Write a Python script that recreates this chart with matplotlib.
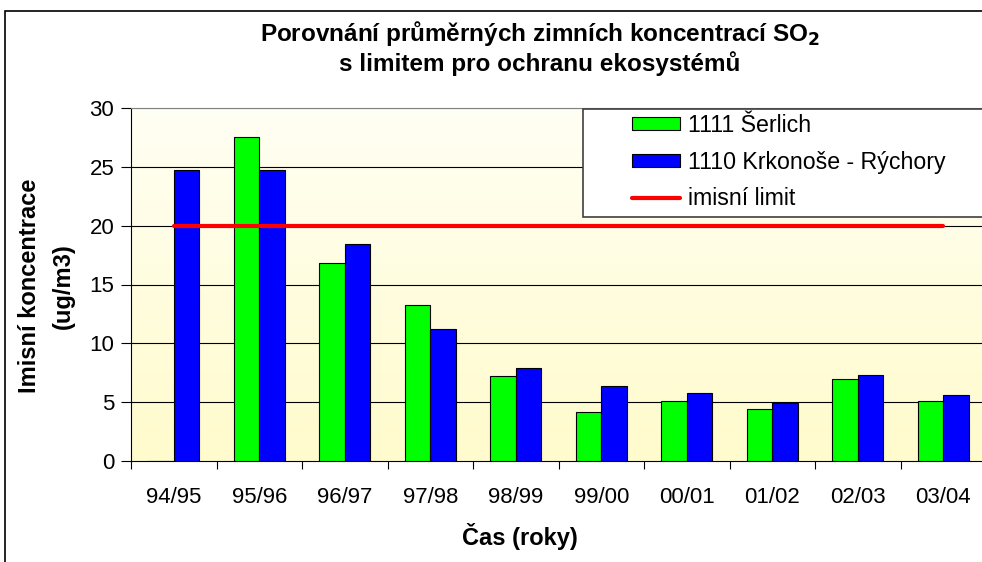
import matplotlib
matplotlib.use("Agg")
import matplotlib.pyplot as plt
import numpy as np
from matplotlib.patches import Rectangle, Patch
from matplotlib.lines import Line2D

plt.rcParams['font.family'] = ['Liberation Sans', 'DejaVu Sans']

seasons = ['94/95', '95/96', '96/97', '97/98', '98/99', '99/00', '00/01', '01/02', '02/03', '03/04']
serlich = [0, 27.5, 16.8, 13.3, 7.25, 4.2, 5.1, 4.4, 6.95, 5.1]
rychory = [24.7, 24.7, 18.4, 11.2, 7.9, 6.4, 5.8, 4.95, 7.3, 5.6]
limit = [20] * 10

fig = plt.figure(figsize=(9.82, 5.62), dpi=100)
W, H = 982, 562
ax = fig.add_axes([131 / W, 1 - 461 / H, (986 - 131) / W, (461 - 108) / H])

# pale yellow gradient background
grad = np.linspace(0, 1, 256).reshape(-1, 1)
top = np.array([1.0, 1.0, 0.955])
bot = np.array([1.0, 0.985, 0.80])
img = top + (bot - top) * grad[:, :, None]
ax.imshow(img, extent=[-0.5, 9.5, 0, 30], aspect='auto', zorder=0)

x = np.arange(len(seasons))
ax.bar(x - 0.15, serlich, width=0.3, color='#00ff00', edgecolor='black', linewidth=0.8, zorder=3)
ax.bar(x + 0.15, rychory, width=0.3, color='#0000ff', edgecolor='black', linewidth=0.8, zorder=3)
ax.plot(x, limit, color='#ff0000', lw=3, solid_capstyle='round', zorder=4)

ax.set_xlim(-0.5, 9.5)
ax.set_ylim(0, 30)
ax.set_yticks(range(0, 31, 5))
for v in range(5, 31, 5):
    ax.axhline(v, color='black' if v < 30 else '#808080', lw=0.8, zorder=1)

ax.set_xticks(x)
ax.set_xticklabels(seasons, fontsize=16)
ax.set_xticks(np.arange(-0.5, 10, 1), minor=True)
ax.tick_params(axis='x', which='major', length=0, pad=19)
ax.tick_params(axis='x', which='minor', length=6, width=0.8, direction='out')
ax.tick_params(axis='y', length=7, width=0.8, labelsize=16, pad=5)

ax.spines['right'].set_visible(False)
ax.spines['top'].set_color('#808080')
ax.spines['left'].set_linewidth(0.8)
ax.spines['bottom'].set_linewidth(0.8)

fig.text(30 / W, 1 - 286 / H, 'Imisní koncentrace', rotation=90, fontsize=17,
         fontweight='bold', ha='center', va='center')
fig.text(63 / W, 1 - 286 / H, '(ug/m3)', rotation=90, fontsize=17,
         fontweight='bold', ha='center', va='center')
fig.text(520 / W, 1 - 537 / H, 'Čas (roky)', fontsize=17, fontweight='bold',
         ha='center', va='center')

fig.text(540 / W, 1 - 33 / H, 'Porovnání průměrných zimních koncentrací SO$_\\mathbf{2}$',
         fontsize=17.5, fontweight='bold', ha='center', va='center')
fig.text(540 / W, 1 - 64 / H, 's limitem pro ochranu ekosystémů',
         fontsize=17.5, fontweight='bold', ha='center', va='center')

# legend box
fig.patches.append(Rectangle((583 / W, 1 - 217 / H), 0.5, (217 - 109) / H,
                             transform=fig.transFigure, facecolor='white',
                             edgecolor='#404040', lw=1.2, zorder=2))
handles = [Patch(facecolor='#00ff00', edgecolor='black', lw=0.8),
           Patch(facecolor='#0000ff', edgecolor='black', lw=0.8),
           Line2D([], [], color='#ff0000', lw=3, solid_capstyle='round')]
labels = ['1111 Šerlich', '1110 Krkonoše - Rýchory', 'imisní limit']
fig.legend(handles, labels, loc='upper left', bbox_to_anchor=(627 / W, 1 - 109 / H),
           frameon=False, fontsize=16.7, handlelength=2.1, handleheight=0.5,
           handletextpad=0.35, labelspacing=0.6, borderaxespad=0, borderpad=0.2)

# outer chart border
fig.patches.append(Rectangle((5 / W, -0.1), 1.2, 1.1 - 11 / H, transform=fig.transFigure,
                             facecolor='none', edgecolor='black', lw=1.2, zorder=1))

fig.savefig('out.png', dpi=100)
